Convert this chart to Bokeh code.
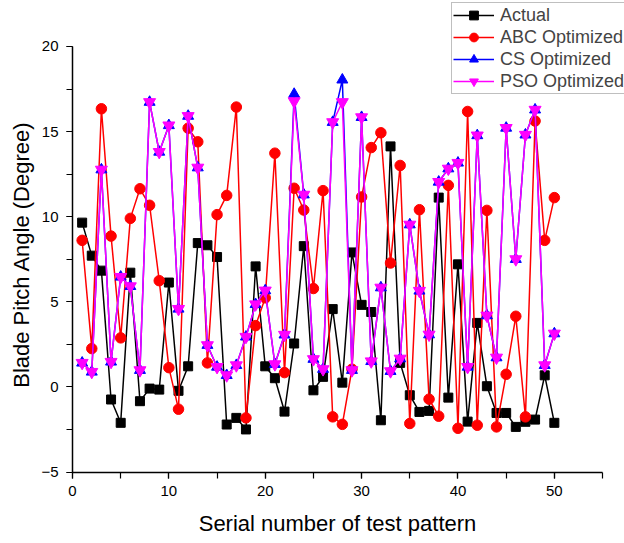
import math
from bokeh.plotting import figure
from bokeh.models import (Legend, LegendItem, SingleIntervalTicker, Range1d,
                          LinearAxis, Label)
from bokeh.embed import file_html
from bokeh.resources import INLINE

n = list(range(1, 51))
actual = [9.65, 7.71, 6.83, -0.74, -2.11, 6.71, -0.84, -0.10, -0.16, 6.13,
          -0.23, 1.21, 8.45, 8.32, 7.63, -2.21, -1.82, -2.50, 7.08, 1.21,
          0.51, -1.45, 2.55, 8.27, -0.20, 0.59, 4.57, 0.25, 7.90, 4.82,
          4.40, -1.96, 14.13, 1.41, -0.49, -1.47, -1.41, 11.12, -0.63, 7.20,
          -2.04, 3.76, 0.04, -1.53, -1.53, -2.35, -2.05, -1.92, 0.68, -2.11]
abc = [8.61, 2.25, 16.34, 8.86, 2.88, 9.90, 11.64, 10.67, 6.24, 1.13,
       -1.31, 15.20, 14.40, 1.41, 10.12, 11.25, 16.44, -1.82, 3.60, 5.23,
       13.73, 0.84, 11.67, 10.39, 5.78, 11.53, -1.76, -2.20, 1.04, 11.16,
       14.06, 14.93, 7.28, 13.01, -2.15, 10.41, -0.72, -1.72, 11.84, -2.43,
       16.18, -2.25, 10.37, -2.35, 0.74, 4.15, -1.76, 15.62, 8.61, 11.12]
cs = [1.41, 0.88, 12.76, 1.47, 6.46, 5.91, 0.98, 16.73, 13.80, 15.36,
      4.58, 15.91, 12.88, 2.45, 1.17, 0.68, 1.27, 2.94, 4.85, 5.66,
      1.33, 3.06, 17.20, 11.29, 1.63, 1.04, 15.55, 18.04, 0.98, 15.84,
      1.50, 5.83, 0.92, 1.66, 9.53, 5.64, 3.07, 12.04, 12.82, 13.16,
      1.17, 14.77, 4.19, 1.72, 15.21, 7.50, 14.81, 16.28, 1.27, 3.13]
pso = [1.41, 0.88, 12.76, 1.47, 6.46, 5.91, 0.98, 16.73, 13.80, 15.36,
       4.58, 15.91, 12.88, 2.45, 1.17, 0.68, 1.27, 2.94, 4.85, 5.66,
       1.33, 3.06, 16.78, 11.29, 1.63, 1.04, 15.55, 16.73, 0.98, 15.84,
       1.50, 5.83, 0.92, 1.66, 9.53, 5.64, 3.07, 12.04, 12.82, 13.16,
       1.17, 14.77, 4.19, 1.72, 15.21, 7.50, 14.81, 16.28, 1.27, 3.13]

series_names = ["Actual", "ABC Optimized", "CS Optimized", "PSO Optimized"]
x_label = "Serial number of test pattern"
y_label = "Blade Pitch Angle (Degree)"
x_bounds = (0, 55)
y_bounds = (-5, 20)

FONT = "Liberation Sans"

# The frame covers the whole canvas; axes are drawn at fixed data locations
# so that the legend and axis titles can sit where the reference has them.
p = figure(width=624, height=543, output_backend="svg", toolbar_location=None,
           x_range=Range1d(-7.472, 57.28), y_range=Range1d(-9.20, 22.70),
           x_axis_location=None, y_axis_location=None,
           min_border_left=0, min_border_right=0, min_border_top=0,
           min_border_bottom=0)
p.xgrid.visible = False
p.ygrid.visible = False
p.outline_line_color = None
p.background_fill_color = "white"
p.border_fill_color = "white"

xaxis = LinearAxis(fixed_location=y_bounds[0], bounds=x_bounds,
                   ticker=SingleIntervalTicker(interval=10, num_minor_ticks=2))
yaxis = LinearAxis(fixed_location=x_bounds[0], bounds=y_bounds,
                   ticker=SingleIntervalTicker(interval=5, num_minor_ticks=2))
for ax in (xaxis, yaxis):
    ax.axis_line_width = 1.5
    ax.axis_line_color = "black"
    ax.major_tick_line_color = "black"
    ax.minor_tick_line_color = "black"
    ax.major_tick_line_width = 1.2
    ax.minor_tick_line_width = 1.2
    ax.major_tick_in = 0
    ax.minor_tick_in = 0
    ax.major_tick_out = 6
    ax.minor_tick_out = 6
    ax.major_label_text_font = FONT
    ax.major_label_text_font_size = "15px"
    ax.major_label_text_color = "black"
    ax.major_label_standoff = 8
p.add_layout(xaxis, "below")
p.add_layout(yaxis, "left")

xlab = Label(x=337, y=20, x_units="screen", y_units="screen", text=x_label,
             text_align="center", text_baseline="middle",
             text_font=FONT, text_font_size="22px", text_color="black")
ylab = Label(x=21, y=289, x_units="screen", y_units="screen", text=y_label,
             angle=math.pi / 2, text_align="center", text_baseline="middle",
             text_font=FONT, text_font_size="22px", text_color="black")
p.add_layout(xlab)
p.add_layout(ylab)

lw = 1.5
r_a_l = p.line(n, actual, line_color="black", line_width=lw)
r_a_s = p.scatter(n, actual, marker="square", size=9, color="black")
r_b_l = p.line(n, abc, line_color="red", line_width=lw)
r_b_s = p.scatter(n, abc, marker="circle", size=10.5, color="red")
r_c_l = p.line(n, cs, line_color="blue", line_width=lw)
r_c_s = p.scatter(n, cs, marker="triangle", size=11, color="blue")
r_d_l = p.line(n, pso, line_color="magenta", line_width=lw)
r_d_s = p.scatter(n, pso, marker="inverted_triangle", size=12, color="magenta")

legend = Legend(items=[
    LegendItem(label=series_names[0], renderers=[r_a_l, r_a_s]),
    LegendItem(label=series_names[1], renderers=[r_b_l, r_b_s]),
    LegendItem(label=series_names[2], renderers=[r_c_l, r_c_s]),
    LegendItem(label=series_names[3], renderers=[r_d_l, r_d_s]),
], location=(451, 449))
legend.margin = 0
legend.padding = 1
legend.spacing = 0
legend.glyph_width = 41
legend.glyph_height = 22
legend.label_height = 22
legend.label_standoff = 6
legend.label_text_font = FONT
legend.label_text_font_size = "18px"
legend.label_text_baseline = "middle"
legend.border_line_color = "#808080"
legend.border_line_width = 1.2
legend.background_fill_alpha = 1.0
p.add_layout(legend)

open("out.html", "w").write(file_html(p, INLINE))
